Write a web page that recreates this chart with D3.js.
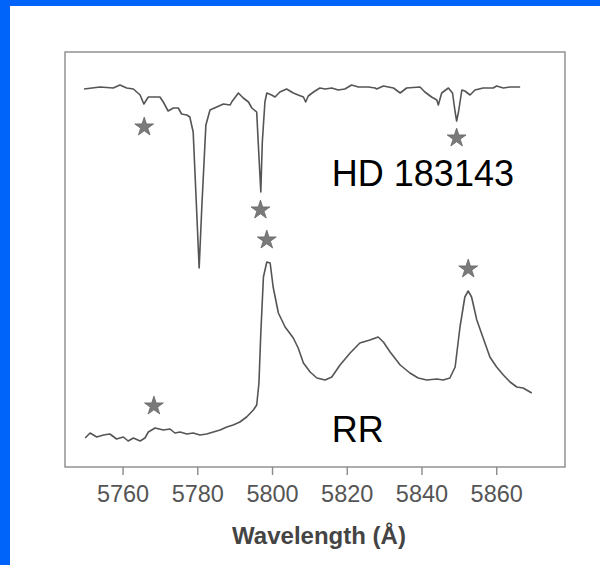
<!DOCTYPE html>
<html>
<head>
<meta charset="utf-8">
<script src="https://cdn.jsdelivr.net/npm/d3@7"></script>
<style>
  body { margin: 0; background: #fff; }
  svg { display: block; font-family: "Liberation Sans", Arial, sans-serif; }
  .axis path, .axis line { stroke: #8a8a8a; stroke-width: 1.4; }
  .axis text { fill: #555; font-size: 23.5px; }
</style>
</head>
<body>
<svg id="chart"></svg>
<script>
// wavelength (Angstrom) and relative intensity (arbitrary, offset)
const hdWave = [5749.7, 5754.0, 5757.5, 5759.3, 5761.1, 5762.9, 5764.7, 5765.7, 5766.9, 5770.0,
    5770.9, 5772.2, 5773.6, 5774.9, 5775.8, 5777.2, 5778.0, 5778.9, 5779.8, 5780.5,
    5781.2, 5782.3, 5783.4, 5785.2, 5787.0, 5788.8, 5789.2, 5791.0, 5792.3, 5793.7,
    5794.6, 5795.9, 5796.3, 5797.0, 5797.4, 5798.1, 5798.6, 5799.9, 5800.8, 5802.1,
    5803.9, 5805.7, 5807.0, 5808.4, 5809.0, 5809.7, 5811.1, 5812.8, 5814.2, 5816.0,
    5817.7, 5819.5, 5821.3, 5823.1, 5825.8, 5827.6, 5828.0, 5829.8, 5832.5, 5834.3,
    5836.0, 5839.6, 5840.9, 5842.7, 5844.1, 5844.5, 5845.4, 5847.2, 5848.3, 5849.0,
    5849.4, 5849.9, 5850.8, 5851.6, 5853.0, 5854.3, 5856.5, 5859.2, 5860.1, 5861.9,
    5863.7, 5866.4];
const hdFlux = [37.8, 38.0, 37.9, 38.2, 37.9, 37.8, 37.2, 36.3, 37.0, 37.0,
    36.5, 35.6, 35.9, 35.9, 35.3, 35.2, 35.0, 33.5, 25.9, 19.9,
    25.9, 34.2, 35.7, 36.0, 36.3, 36.2, 36.5, 37.4, 36.9, 36.5,
    35.9, 35.5, 32.5, 27.5, 32.5, 36.5, 37.4, 37.2, 37.0, 37.5,
    37.8, 37.4, 37.2, 37.0, 36.5, 37.1, 37.5, 37.9, 37.8, 37.9,
    37.7, 37.8, 38.2, 38.0, 38.0, 37.9, 37.8, 38.1, 37.9, 37.4,
    37.9, 38.0, 37.5, 37.0, 36.7, 36.2, 37.4, 37.9, 37.4, 35.5,
    34.6, 35.5, 37.7, 37.6, 37.2, 37.7, 37.9, 37.9, 38.1, 37.9,
    38.0, 38.0];

const rrWave = [5750.0, 5751.3, 5753.1, 5754.9, 5756.6, 5758.4, 5760.2, 5761.5, 5762.9, 5764.7,
    5766.0, 5766.9, 5768.7, 5770.9, 5772.7, 5774.0, 5775.4, 5777.2, 5778.9, 5780.7,
    5782.5, 5784.3, 5786.1, 5787.9, 5789.6, 5791.4, 5793.2, 5795.0, 5795.9, 5796.5,
    5797.0, 5797.7, 5798.6, 5799.5, 5800.3, 5801.7, 5803.5, 5805.7, 5807.0, 5808.4,
    5810.2, 5812.0, 5814.2, 5816.0, 5818.2, 5820.9, 5823.5, 5826.2, 5828.4, 5829.8,
    5831.6, 5834.3, 5836.9, 5839.1, 5841.4, 5844.1, 5845.8, 5847.6, 5849.0, 5850.3,
    5851.6, 5852.5, 5853.4, 5854.8, 5856.5, 5858.3, 5860.1, 5861.9, 5863.7, 5865.5,
    5867.2, 5869.5];
const rrFlux = [2.9, 3.4, 3.0, 3.2, 3.3, 2.8, 3.0, 2.6, 2.9, 2.6,
    2.9, 3.5, 3.9, 3.7, 3.8, 3.4, 3.5, 3.3, 3.4, 3.2,
    3.3, 3.5, 3.7, 4.0, 4.2, 4.5, 5.0, 5.7, 6.2, 8.4,
    13.4, 19.0, 20.5, 20.4, 18.0, 15.4, 14.0, 12.9, 11.9, 10.4,
    9.5, 8.9, 8.7, 9.0, 10.2, 11.4, 12.4, 12.7, 13.0, 12.5,
    11.5, 10.2, 9.4, 8.9, 8.7, 8.8, 8.7, 8.9, 10.0, 14.0,
    17.0, 17.6, 17.0, 14.7, 12.9, 11.0, 10.0, 9.2, 8.5, 8.0,
    7.9, 7.4];

// star markers (line identifications)
const starWave = [5765.8, 5796.9, 5798.6, 5849.4, 5852.5, 5768.4];
const starFlux = [34.0, 25.7, 22.7, 32.9, 19.8, 6.1];

const xTicks = [5760, 5780, 5800, 5820, 5840, 5860];

const labels = [
    {text: 'HD 183143', wave: 5816.0, flux: 28.1},
    {text: 'RR', wave: 5816.0, flux: 2.5}
];

const width = 600, height = 565;
const margin = {top: 52, right: 35, bottom: 98, left: 65};

const svg = d3.select('#chart')
    .attr('width', width)
    .attr('height', height);

svg.append('rect')
    .attr('width', width)
    .attr('height', height)
    .attr('fill', '#fff');

// blue slide border
svg.append('rect').attr('x', 0).attr('y', 0).attr('width', width).attr('height', 6).attr('fill', '#0064fa');
svg.append('rect').attr('x', 0).attr('y', 0).attr('width', 10).attr('height', height).attr('fill', '#0064fa');

const x = d3.scaleLinear()
    .domain([5744.6, 5878.4])
    .range([margin.left, width - margin.right]);

const y = d3.scaleLinear()
    .domain([0, 41.5])
    .range([height - margin.bottom, margin.top]);

// plot frame
svg.append('rect')
    .attr('x', margin.left)
    .attr('y', margin.top)
    .attr('width', width - margin.left - margin.right)
    .attr('height', height - margin.top - margin.bottom)
    .attr('fill', 'none')
    .attr('stroke', '#8a8a8a')
    .attr('stroke-width', 1.4);

const xAxis = d3.axisBottom(x)
    .tickValues(xTicks)
    .tickFormat(d3.format('d'))
    .tickSize(8)
    .tickPadding(10)
    .tickSizeOuter(0);

svg.append('g')
    .attr('class', 'axis x-axis')
    .attr('transform', `translate(0,${height - margin.bottom})`)
    .call(xAxis)
    .call(g => g.select('.domain').remove());

svg.append('text')
    .attr('x', 319)
    .attr('y', 544)
    .attr('text-anchor', 'middle')
    .attr('font-size', 24)
    .attr('font-weight', 'bold')
    .attr('fill', '#444')
    .text('Wavelength (Å)');

const line = d3.line()
    .x(d => x(d[0]))
    .y(d => y(d[1]));

const series = [d3.zip(hdWave, hdFlux), d3.zip(rrWave, rrFlux)];

svg.append('g')
    .selectAll('path')
    .data(series)
    .join('path')
    .attr('d', line)
    .attr('fill', 'none')
    .attr('stroke', '#555')
    .attr('stroke-width', 1.6)
    .attr('stroke-linejoin', 'round');

const star = d3.symbol().type(d3.symbolStar).size(110);

svg.append('g')
    .selectAll('path')
    .data(d3.zip(starWave, starFlux))
    .join('path')
    .attr('transform', d => `translate(${x(d[0])},${y(d[1])})`)
    .attr('d', star)
    .attr('fill', '#7a7a7a')
    .attr('stroke', '#666')
    .attr('stroke-width', 0.8);

svg.append('g')
    .selectAll('text')
    .data(labels)
    .join('text')
    .attr('x', d => x(d.wave))
    .attr('y', d => y(d.flux))
    .attr('font-size', 36)
    .attr('fill', '#000')
    .text(d => d.text);
</script>
</body>
</html>
